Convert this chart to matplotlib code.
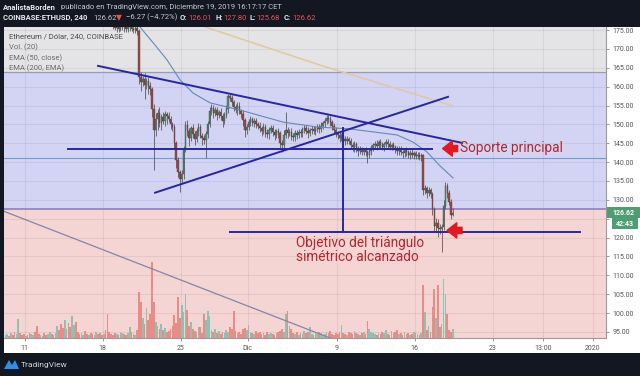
import matplotlib
matplotlib.use("Agg")
import matplotlib.pyplot as plt
from matplotlib.patches import Rectangle, Polygon

# COINBASE:ETHUSD 4h candles (x axis in days from Nov 11)
closes = [
    186.5, 187.2, 186.8, 188.0, 187.5, 186.9, 187.8, 188.4, 187.1, 186.2, 185.9, 186.6,
    185.4, 184.8, 185.9, 186.3, 185.1, 184.6, 183.9, 184.7, 185.2, 184.1, 183.5, 184.0,
    185.3, 184.6, 183.8, 184.9, 185.6, 184.2, 183.1, 182.5, 183.4, 184.0, 183.2, 182.7,
    183.5, 184.1, 183.0, 182.4, 181.8, 182.6, 183.1, 182.0, 181.3, 182.2, 181.5, 180.9,
    181.7, 182.3, 181.1, 180.4, 179.6, 180.3, 179.2, 178.5, 177.9, 177.2,
    176.4, 175.6, 176.1, 175.3, 175.9, 176.5, 175.7, 175.2, 175.8, 176.2, 175.4, 175.0, 175.6, 174.8,
    162.6,
    161.3, 162.0, 160.5, 161.5, 160.2, 159.4,
    154.0, 148.5,
    151.3, 153.1, 150.4, 152.0, 150.9, 152.8, 152.2, 151.4, 150.0, 149.3,
    145.0, 140.5, 137.4, 135.6, 136.8,
    143.5, 149.8,
    148.2, 146.5, 149.0, 147.4, 146.1, 148.3, 149.2, 147.0, 146.4, 145.8, 147.5,
    150.2, 153.5, 154.3, 153.1,
    153.8, 152.5, 153.3, 152.2, 150.9, 152.6, 154.2,
    157.5, 156.9, 155.8,
    154.7, 153.9, 155.0, 153.5, 152.8,
    151.2, 148.6, 149.3,
    150.6, 151.3, 150.4, 151.0, 150.2, 149.7,
    149.0, 148.3, 149.4, 147.8, 147.4, 148.6, 149.1, 148.0, 147.3, 148.2, 147.6,
    145.0, 144.6, 147.3,
    148.4, 147.6, 148.1, 147.0, 146.6, 147.8, 147.2,
    148.0, 147.6, 148.7, 149.1, 148.3, 147.7, 148.4, 148.9, 148.2, 148.8, 149.4, 148.7, 149.6, 150.3, 151.0,
    151.7, 151.3, 150.5, 149.6, 148.5,
    147.7, 147.1, 146.5, 147.0, 146.2, 145.7, 146.1,
    145.7, 144.6, 143.9, 144.7, 143.6, 143.0, 143.5, 142.8, 143.1,
    142.6, 142.0, 142.9, 143.7, 144.5,
    144.9, 144.3, 145.2, 144.6, 144.0, 144.8, 145.3, 144.7, 144.1, 144.5, 143.9,
    143.4, 142.9, 143.5, 142.7, 142.3, 143.1, 142.6, 142.0, 142.5, 141.9, 142.3,
    141.7, 142.0, 141.4, 141.8,
    132.6,
    133.1, 131.9, 132.6, 131.5,
    127.5, 123.2,
    124.0, 122.6, 122.2, 122.9,
    128.4, 133.6,
    131.8, 129.5, 126.01, 126.62,
]
wick_up = [
    0.8, 1.2, 0.6, 1.5, 0.9, 0.7, 1.1, 0.8, 0.5, 0.9, 1.3, 0.6,
    0.7, 1.0, 0.8, 0.6, 1.2, 0.9, 0.5, 0.8, 1.1, 0.7, 0.6, 1.0,
    0.9, 0.7, 0.6, 1.3, 0.8, 0.5, 0.7, 1.1, 0.9, 0.6, 0.8, 0.7,
    1.0, 0.6, 0.8, 1.2, 0.7, 0.9, 0.6, 0.8, 1.0, 0.7, 0.5, 0.9,
    1.1, 0.6, 0.8, 0.7, 0.9, 1.2, 0.8, 0.6, 1.0, 0.7,
    0.6, 0.9, 0.5, 0.8, 0.7, 0.6, 1.0, 0.5, 0.8, 0.6, 0.7, 0.9, 0.5, 0.8,
    0.4,
    1.2, 0.8, 1.5, 0.7, 1.0, 0.9,
    0.6, 1.5,
    1.8, 0.9, 1.4, 0.7, 1.2, 0.8, 0.6, 1.1, 0.7, 0.5,
    0.8, 0.6, 0.9, 0.5, 1.2,
    0.7, 1.0,
    1.3, 0.8, 0.6, 1.1, 0.9, 0.7, 1.2, 0.8, 0.6, 0.9, 0.7,
    0.8, 1.0, 1.2, 0.9,
    0.7, 0.9, 0.6, 1.1, 0.8, 0.7, 1.0,
    0.5, 0.9, 0.8,
    0.7, 0.6, 1.0, 0.8, 0.5,
    0.9, 0.6, 0.8,
    0.7, 0.9, 0.6, 0.8, 0.7, 0.5,
    0.8, 0.6, 0.9, 0.7, 1.1, 0.6, 0.8, 0.7, 0.9, 0.6, 0.8,
    0.7, 0.9, 1.1,
    4.9, 0.8, 0.6, 0.9, 0.7, 0.8, 0.6,
    0.7, 0.9, 0.6, 0.8, 0.7, 1.0, 0.6, 0.8, 0.7, 0.9, 0.6, 0.8, 1.0, 0.7, 0.6,
    0.9, 0.7, 0.8, 0.6, 0.7,
    0.8, 0.6, 0.9, 0.7, 0.8, 0.6, 0.7,
    0.6, 0.8, 0.7, 0.9, 0.6, 0.7, 0.8, 0.6, 0.7,
    0.8, 0.6, 0.7, 0.9, 0.6,
    0.7, 0.9, 0.6, 0.8, 0.7, 0.6, 0.9, 0.7, 0.8, 0.6, 0.7,
    0.6, 0.8, 0.7, 0.9, 0.6, 0.7, 0.8, 0.6, 0.7, 0.9, 0.6,
    0.7, 0.8, 0.6, 0.5,
    0.4,
    0.9, 0.7, 0.8, 0.6,
    0.5, 0.7,
    1.2, 0.8, 0.9, 0.7,
    1.5, 1.2,
    0.9, 0.7, 0.6, 1.18,
]
wick_dn = [
    0.7, 0.9, 1.1, 0.6, 0.8, 1.0, 0.6, 0.9, 0.7, 1.2, 0.8, 0.5,
    0.9, 0.7, 1.0, 0.6, 0.8, 1.1, 0.7, 0.5, 0.9, 0.8, 1.2, 0.6,
    0.8, 1.0, 0.7, 0.5, 0.9, 0.6, 1.1, 0.8, 0.6, 0.9, 0.7, 1.0,
    0.5, 0.8, 1.2, 0.7, 0.9, 0.6, 0.8, 1.0, 0.7, 0.6, 0.9, 1.1,
    0.7, 0.8, 0.5, 1.0, 0.6, 0.9, 0.8, 1.1, 0.7, 0.9,
    1.0, 0.7, 1.2, 0.8, 0.6, 0.9, 1.1, 0.7, 0.8, 1.0, 0.6, 0.9, 0.7, 1.2,
    1.8,
    2.5, 1.2, 3.8, 1.0, 2.2, 1.5,
    2.0, 10.6,
    1.5, 2.8, 1.0, 1.8, 0.9, 1.4, 2.1, 0.8, 1.2, 1.0,
    1.5, 2.0, 1.3, 3.5, 1.0,
    1.2, 0.9,
    1.4, 2.2, 0.8, 1.1, 1.6, 0.9, 1.3, 0.7, 1.8, 1.0, 4.8,
    1.2, 0.8, 1.0, 1.4,
    0.9, 1.3, 0.8, 1.1, 1.5, 0.9, 1.0,
    1.2, 0.8, 1.0,
    1.1, 0.9, 1.3, 0.8, 1.0,
    1.6, 1.9, 1.2,
    0.9, 1.1, 0.8, 1.0, 1.2, 0.9,
    1.0, 1.3, 0.8, 1.1, 0.9, 1.2, 0.8, 1.0, 1.4, 0.9, 1.1,
    1.5, 1.8, 1.0,
    0.9, 1.1, 0.8, 1.2, 1.0, 0.9, 1.1,
    0.8, 1.0, 0.9, 1.1, 0.8, 1.2, 0.9, 1.0, 0.8, 1.1, 0.9, 1.0, 0.8, 0.9, 1.0,
    0.8, 1.0, 0.9, 1.1, 0.8,
    1.0, 0.9, 1.2, 0.8, 1.0, 1.1, 0.9,
    1.0, 1.2, 0.9, 1.1, 1.0, 1.3, 0.8, 1.0, 0.9,
    1.1, 2.3, 0.9, 1.0, 0.8,
    0.9, 1.0, 0.8, 1.1, 0.9, 1.0, 0.8, 1.2, 0.9, 1.0, 0.8,
    1.0, 0.9, 1.1, 0.8, 1.2, 0.9, 1.0, 0.8, 1.1, 0.9, 1.0,
    0.9, 1.0, 0.8, 1.0,
    1.2,
    1.0, 1.3, 0.9, 1.1,
    1.5, 1.8,
    1.4, 2.5, 1.2, 6.0,
    1.0, 0.8,
    1.2, 0.9, 1.0, 0.33,
]
volume = [
    3, 4, 2, 5, 3, 6, 4, 19, 5, 3, 4, 2,
    3, 5, 4, 3, 6, 12, 4, 3, 2, 5, 3, 4,
    6, 4, 3, 5, 12, 8, 14, 10, 18, 9, 15, 11,
    22, 13, 16, 6, 4, 5, 3, 7, 4, 3, 5, 4,
    3, 6, 4, 5, 3, 4, 8, 24, 6, 4, 3, 5,
    4, 3, 6, 5, 4, 3, 5, 11, 6, 4, 3, 8,
    46, 36, 20, 14, 30, 18, 24, 76, 36, 16, 12, 9,
    14, 8, 10, 6, 7, 9, 12, 23, 15, 41, 20, 33,
    26, 44, 28, 12, 16, 9, 7, 6, 11, 11, 5, 24,
    18, 27, 22, 8, 6, 9, 5, 7, 4, 6, 5, 8,
    6, 11, 9, 27, 7, 5, 6, 4, 9, 10, 8, 13,
    6, 5, 4, 7, 5, 6, 4, 5, 3, 6, 4, 5,
    4, 3, 5, 6, 7, 9, 6, 24, 27, 12, 9, 5,
    4, 6, 3, 5, 4, 7, 5, 6, 11, 4, 3, 5,
    4, 6, 5, 3, 4, 6, 5, 7, 4, 3, 5, 4,
    6, 13, 5, 4, 3, 6, 5, 4, 7, 5, 4, 3,
    5, 6, 4, 17, 9, 6, 5, 4, 3, 5, 4, 6,
    5, 8, 4, 3, 7, 5, 6, 8, 4, 5, 3, 6,
    4, 5, 3, 4, 6, 5, 4, 3, 5, 53, 26, 8,
    12, 6, 31, 49, 20, 53, 11, 14, 59, 44, 24, 8,
    6, 9,
]

first_day = -1.75
bars_per_day = 6

date_ticks = [0, 7, 14, 20, 28, 35, 42, 46.5, 51]
date_labels = ["11", "18", "25", "Dic", "9", "16", "23", "13:00", "2020"]
price_ticks = list(range(95, 180, 5))

# drawings on the chart
band_top = 164.0
band_mid = 127.7
blue_level = 141.1
support = 143.6
target = 121.6
support_days = [3.88, 36.55]
target_days = [18.42, 49.84]
upper_days, upper_prices = [6.57, 39.25], [165.5, 145.1]
lower_days, lower_prices = [11.69, 37.99], [131.9, 157.3]
breakout_day, breakout_price = 28.56, 149.0
ema50_days = [9.5, 10.34, 11.69, 12.76, 13.93, 15.10, 16.63, 19.32, 23.18, 26.23,
              29.19, 33.41, 34.85, 36.10, 37.27, 38.44]
ema50_prices = [178.5, 175.8, 171.0, 167.1, 161.8, 158.3, 155.7, 153.8, 150.6, 149.3,
                148.8, 147.2, 145.3, 142.7, 139.0, 135.8]
ema200_days = [16.2, 26.5, 38.44]
ema200_prices = [175.8, 165.7, 154.9]
trend_days = [-1.9, 27.4]
trend_prices = [127.0, 93.4]

DARK = "#131722"
UP, DOWN = "#3f9a78", "#a5453a"
VUP, VDOWN = "#8fc1b2", "#ea8c85"
NAVY = "#2626a6"
RED_TXT = "#b0282e"
ARROW = "#e3191f"
FAM = ["Roboto", "DejaVu Sans"]

W, H = 640, 376
fig = plt.figure(figsize=(6.4, 3.76), dpi=100)
fig.patch.set_facecolor(DARK)


def fx(px):
    return px / W


def fy(py):
    return 1 - py / H


# white panel behind the chart and its scales
fig.add_artist(Rectangle((fx(4), fy(353)), (W - 4) / W, (353 - 27) / H,
                         transform=fig.transFigure, fc="white", ec="none", zorder=-1))

pos = [fx(4), fy(338), (606 - 4) / W, (338 - 27) / H]
xlim = (-1.87, 52.17)
ylim = (93.4, 175.8)

bg = fig.add_axes(pos)
vol_ax = fig.add_axes(pos)
ax = fig.add_axes(pos)
for a in (bg, vol_ax, ax):
    a.set_xlim(*xlim)
bg.set_ylim(*ylim)
ax.set_ylim(*ylim)
bg.axis("off")
vol_ax.axis("off")
ax.patch.set_alpha(0)
vol_ax.patch.set_alpha(0)

# coloured zones
bg.axhspan(band_top, 200, color="#e4e4e6", lw=0)
bg.axhspan(band_mid, band_top, color="#d3d3f4", lw=0)
bg.axhspan(0, band_mid, color="#f5d4d4", lw=0)
for p in price_ticks:
    bg.axhline(p, color="black", alpha=0.06, lw=0.8)
for d in date_ticks:
    bg.axvline(d, color="black", alpha=0.06, lw=0.8)

# volume
n = len(closes)
opens = [closes[0]] + closes[:-1]
days = [first_day + i / bars_per_day for i in range(n)]
vcols = [VUP if closes[i] >= opens[i] else VDOWN for i in range(n)]
vol_ax.set_ylim(0, 311)
vol_ax.bar(days, volume, width=0.15, color=vcols, lw=0)

# candles
for i in range(n):
    o, c = opens[i], closes[i]
    hi = max(o, c) + wick_up[i]
    lo = min(o, c) - wick_dn[i]
    col = UP if c >= o else DOWN
    ax.vlines(days[i], lo, hi, color="#5a5a5a", lw=0.6, zorder=3)
    ax.bar(days[i], max(abs(c - o), 0.15), bottom=min(o, c), width=0.12,
           color=col, edgecolor="#3a3a3a", lw=0.25, zorder=4)

# horizontal zone lines
ax.axhline(band_top, color="#9a9ab6", lw=0.9, zorder=2)
ax.axhline(band_mid, color="#8f80b8", lw=1.2, zorder=2)
ax.axhline(blue_level, color="#6c9fd6", lw=0.8, zorder=2)

# indicators
ax.plot(ema50_days, ema50_prices, color="#6688b8", lw=0.8, zorder=5)
ax.plot(ema200_days, ema200_prices, color="#e2c79f", lw=1.1, zorder=5)
ax.plot(trend_days, trend_prices, color="#8585a8", lw=0.9, zorder=5)

# triangle + targets
ax.plot(upper_days, upper_prices, color=NAVY, lw=1.4, zorder=6)
ax.plot(lower_days, lower_prices, color=NAVY, lw=1.4, zorder=6)
ax.plot(support_days, [support, support], color=NAVY, lw=1.4, zorder=6)
ax.plot(target_days, [target, target], color=NAVY, lw=1.4, zorder=6)
ax.plot([breakout_day, breakout_day], [breakout_price, target], color=NAVY, lw=1.4, zorder=6)

arrow_style = "simple,head_length=0.35,head_width=0.55,tail_width=0.22"
ax.annotate("", xy=(37.5, support), xytext=(38.85, support),
            arrowprops=dict(arrowstyle=arrow_style, color=ARROW, mutation_scale=20,
                            shrinkA=0, shrinkB=0), zorder=7)
ax.annotate("", xy=(37.9, target + 0.3), xytext=(39.25, target + 0.3),
            arrowprops=dict(arrowstyle=arrow_style, color=ARROW, mutation_scale=20,
                            shrinkA=0, shrinkB=0), zorder=7)
ax.text(39.06, support + 0.2, "Soporte principal", color=RED_TXT, fontsize=9.8,
        family=FAM, va="center", ha="left", zorder=7)
ax.text(24.35, 116.8, "Objetivo del triángulo\nsimétrico alcanzado", color=RED_TXT,
        fontsize=9.8, family=FAM, va="center", ha="left", linespacing=1.0, zorder=7)

# axes / ticks
for s in ("top", "left"):
    ax.spines[s].set_visible(False)
for s in ("right", "bottom"):
    ax.spines[s].set_color("#9a9a9a")
    ax.spines[s].set_linewidth(0.8)
ax.set_yticks(price_ticks)
# the last-price tag covers the scale label next to it
ax.set_yticklabels(["" if closes[-1] - 4.5 < p < closes[-1] + 2.5 else f"{p:.2f}"
                    for p in price_ticks])
ax.yaxis.tick_right()
ax.set_xticks(date_ticks)
ax.set_xticklabels(date_labels)
ax.tick_params(axis="y", length=2.5, width=0.6, colors="#8a8a8a", labelcolor="#555555",
               labelsize=5, pad=2)
ax.tick_params(axis="x", length=2.5, width=0.6, colors="#8a8a8a", labelcolor="#555555",
               labelsize=5, pad=2.5)
for lab in ax.get_xticklabels() + ax.get_yticklabels():
    lab.set_family(FAM)

# last price tag
fig.canvas.draw()
y_last = ax.transData.transform((0, closes[-1]))[1]
fig.add_artist(Rectangle((fx(607), (y_last - 5.5) / H), 33 / W, 11 / H,
                         transform=fig.transFigure, fc="#4f9d73", ec="none"))
fig.add_artist(Rectangle((fx(612), (y_last - 16.5) / H), 26 / W, 11 / H,
                         transform=fig.transFigure, fc="#4f9d73", ec="none"))
fig.text(fx(623.5), y_last / H, f"{closes[-1]:.2f}", color="white", fontsize=5,
         fontweight="bold", family=FAM, ha="center", va="center")
fig.text(fx(625), (y_last - 11) / H, "42:43", color="white", fontsize=5,
         fontweight="bold", family=FAM, ha="center", va="center")

# header
o_last, c_last = opens[-1], closes[-1]
h_last = max(o_last, c_last) + wick_up[-1]
l_last = min(o_last, c_last) - wick_dn[-1]
WHITE, GREY, HRED = "#e6e8ee", "#c4c6cc", "#e25757"
header = [
    (3, 7, "AnalistaBorden", WHITE, "bold"),
    (61, 7, "publicado en TradingView.com, Diciembre 19, 2019 16:17:17 CET", GREY, "normal"),
    (3, 17.5, "COINBASE:ETHUSD, 240", WHITE, "bold"),
    (93, 17.5, f"{c_last:.2f}", GREY, "normal"),
    (116, 17.5, "▼", "#ef5350", "normal"),
    (126, 17.5, "−6.27 (−4.72%)", GREY, "normal"),
    (180, 17.5, "O:", WHITE, "bold"),
    (188, 17.5, f"{o_last:.2f}", HRED, "normal"),
    (215, 17.5, "H:", WHITE, "bold"),
    (223, 17.5, f"{h_last:.2f}", HRED, "normal"),
    (249, 17.5, "L:", WHITE, "bold"),
    (256, 17.5, f"{l_last:.2f}", HRED, "normal"),
    (284, 17.5, "C:", WHITE, "bold"),
    (292, 17.5, f"{c_last:.2f}", HRED, "normal"),
]
for x, y, s, col, wt in header:
    fig.text(fx(x), fy(y), s, color=col, fontsize=5.5, fontweight=wt, family=FAM,
             ha="left", va="center")

# series legend inside the chart
legend_rows = [
    ("Ethereum / Dólar, 240, COINBASE", "#4a4a4a", 36.5),
    ("Vol. (20)", "#6a6a6a", 47.5),
    ("EMA (50, close)", "#6a6a6a", 58),
    ("EMA (200, EMA)", "#6a6a6a", 68.5),
]
for s, col, y in legend_rows:
    fig.text(fx(9), fy(y), s, color=col, fontsize=5.5, family=FAM, ha="left", va="center",
             zorder=10)

# footer logo
fig.add_artist(Polygon([(fx(4), fy(369)), (fx(9), fy(360)), (fx(12), fy(365)),
                        (fx(15), fy(360)), (fx(19), fy(369))],
                       closed=True, transform=fig.transFigure, fc="#2a8ff0", ec="none"))
fig.text(fx(21), fy(364.5), "TradingView", color="#d1d4dc", fontsize=6, family=FAM,
         ha="left", va="center")

fig.savefig("out.png", dpi=100, facecolor=fig.get_facecolor())
